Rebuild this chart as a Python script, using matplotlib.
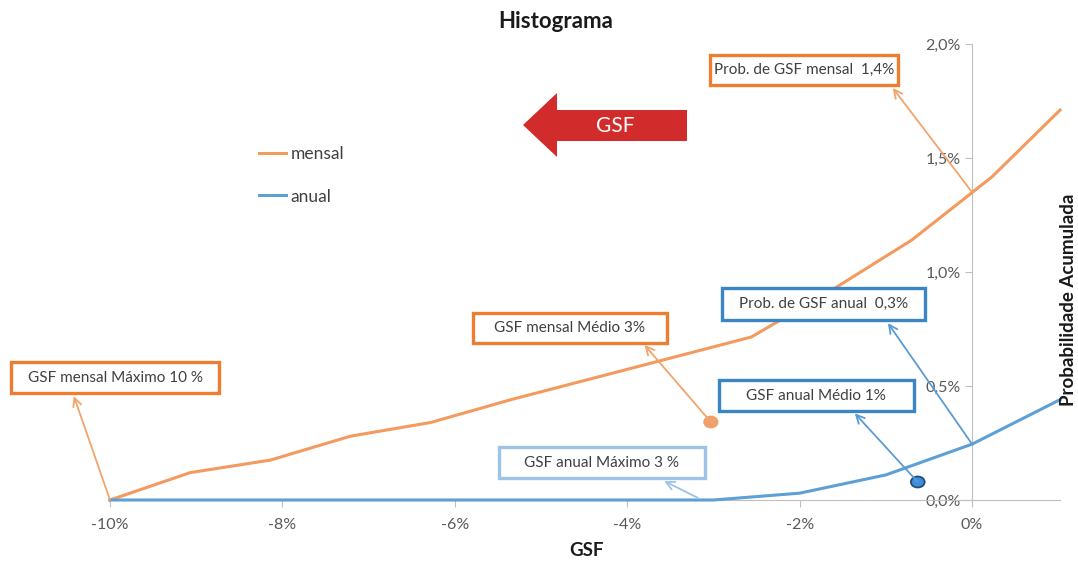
import matplotlib
matplotlib.use("Agg")
import matplotlib.pyplot as plt
from matplotlib.patches import Polygon, Ellipse, Rectangle
from matplotlib.ticker import FuncFormatter

plt.rcParams['font.family'] = ['Lato', 'DejaVu Sans']

# ---- data (GSF deficit in %, cumulative probability in %) ----
mensal_x = [-10.0, -9.07, -8.14, -7.21, -6.28, -5.35, -2.56, -1.63, -0.70, 0.23, 1.02]
mensal_y = [0.0, 0.12, 0.175, 0.28, 0.34, 0.44, 0.715, 0.92, 1.14, 1.417, 1.71]
anual_x = [-10.0, -3.0, -2.0, -1.0, 0.0, 1.02]
anual_y = [0.0, 0.0, 0.03, 0.11, 0.245, 0.44]

x_ticks = [-10, -8, -6, -4, -2, 0]
y_ticks = [0.0, 0.5, 1.0, 1.5, 2.0]

mensal_medio = (-3.03, 0.342)
anual_medio = (-0.63, 0.079)

# annotations: text, box centre, box size, arrow start (on data), arrow end (box), colours
annotations = [
    ("Prob. de GSF mensal  1,4%", (-1.951, 1.886), (2.18, 0.132), (0.0, 1.35), (-0.92, 1.807), "#ED7D31", "#F4A36B"),
    ("GSF mensal Médio 3%", (-4.669, 0.754), (2.25, 0.132), mensal_medio, (-3.80, 0.68), "#ED7D31", "#F4A36B"),
    ("GSF mensal Máximo 10 %", (-9.942, 0.537), (2.42, 0.136), (-10.0, 0.0), (-10.42, 0.456), "#ED7D31", "#F4A36B"),
    ("Prob. de GSF anual  0,3%", (-1.725, 0.860), (2.36, 0.140), (0.0, 0.245), (-0.976, 0.776), "#3A86C4", "#5B9BD5"),
    ("GSF anual Médio 1%", (-1.806, 0.458), (2.26, 0.136), anual_medio, (-1.36, 0.38), "#3A86C4", "#5B9BD5"),
    ("GSF anual Máximo 3 %", (-4.297, 0.164), (2.39, 0.136), (-3.18, 0.009), (-3.57, 0.083), "#9DC3E6", "#9DC3E6"),
]

W, H = 1078, 562
fig = plt.figure(figsize=(W / 100, H / 100), dpi=100)
ax = fig.add_axes([110 / W, 1 - 500 / H, (1060 - 110) / W, (500 - 44) / H])
ax.set_xlim(-10.0, 1.02)
ax.set_ylim(0, 2.0)

orange = "#F39A5F"
blue = "#5DA0D5"
ax.plot(mensal_x, mensal_y, color=orange, lw=2.2, label="mensal", zorder=4, clip_on=False)
ax.plot(anual_x, anual_y, color=blue, lw=2.2, label="anual", zorder=4, clip_on=False)

# spines
for s in ["top", "right"]:
    ax.spines[s].set_visible(False)
ax.spines["left"].set_position(("data", 0))
ax.spines["left"].set_color("#BFBFBF")
ax.spines["bottom"].set_color("#BFBFBF")
ax.spines["left"].set_zorder(1)

ax.set_xticks(x_ticks)
ax.set_yticks(y_ticks)
ax.xaxis.set_major_formatter(FuncFormatter(lambda v, p: f"{int(round(v))}%"))
ax.yaxis.set_major_formatter(FuncFormatter(lambda v, p: f"{v:.1f}%".replace(".", ",")))
ax.tick_params(axis="x", colors="#BFBFBF", labelcolor="#595959", labelsize=11.5, length=5, pad=8)
ax.tick_params(axis="y", colors="#BFBFBF", labelcolor="#595959", labelsize=11.5, length=5, pad=3)

# average markers
ax.add_patch(Ellipse(mensal_medio, 0.16, 0.05, facecolor="#F0A06A", edgecolor="#F0A06A", zorder=5, clip_on=False))
ax.add_patch(Ellipse(anual_medio, 0.16, 0.048, facecolor="#3C8FDA", edgecolor="#1F4E79", lw=1.3, zorder=5, clip_on=False))

# annotation boxes
for text, centre, size, start, end, ec, ac in annotations:
    ax.add_patch(Rectangle((centre[0] - size[0] / 2, centre[1] - size[1] / 2), size[0], size[1],
                           facecolor="white", edgecolor=ec, lw=2.4, zorder=6, clip_on=False))
    ax.text(centre[0], centre[1], text, ha="center", va="center", fontsize=11, color="#404040",
            zorder=7, clip_on=False)
    ax.annotate("", xy=end, xytext=start, annotation_clip=False,
                arrowprops=dict(arrowstyle="->,head_length=0.6,head_width=0.3", color=ac, lw=1.3,
                                shrinkA=0, shrinkB=0), zorder=5)

# legend
ax.legend(loc="upper left", bbox_to_anchor=(243 / W, 1 - 130 / H), bbox_transform=fig.transFigure,
          frameon=False, fontsize=12.5, handlelength=1.6, handletextpad=0.25, labelspacing=1.55,
          labelcolor="#404040")

# red GSF arrow
pts = [(523, 125), (557, 93), (557, 110), (687, 110), (687, 141), (557, 141), (557, 157)]
fig.patches.append(Polygon([(x / W, 1 - y / H) for x, y in pts], closed=True, transform=fig.transFigure,
                           facecolor="#D22B2B", edgecolor="none", zorder=10))
fig.text(615 / W, 1 - 126 / H, "GSF", color="white", fontsize=15, ha="center", va="center", zorder=11)

# titles
fig.text(556 / W, 1 - 22 / H, "Histograma", ha="center", va="center", fontsize=16, fontweight="bold",
         color="#1a1a1a")
fig.text(587 / W, 1 - 550 / H, "GSF", ha="center", va="center", fontsize=13.5, fontweight="bold",
         color="#1a1a1a")
fig.text(1068 / W, 1 - 300 / H, "Probabilidade Acumulada", ha="center", va="center", rotation=90,
         fontsize=13.5, fontweight="bold", color="#1a1a1a")

fig.savefig("out.png", dpi=100)
